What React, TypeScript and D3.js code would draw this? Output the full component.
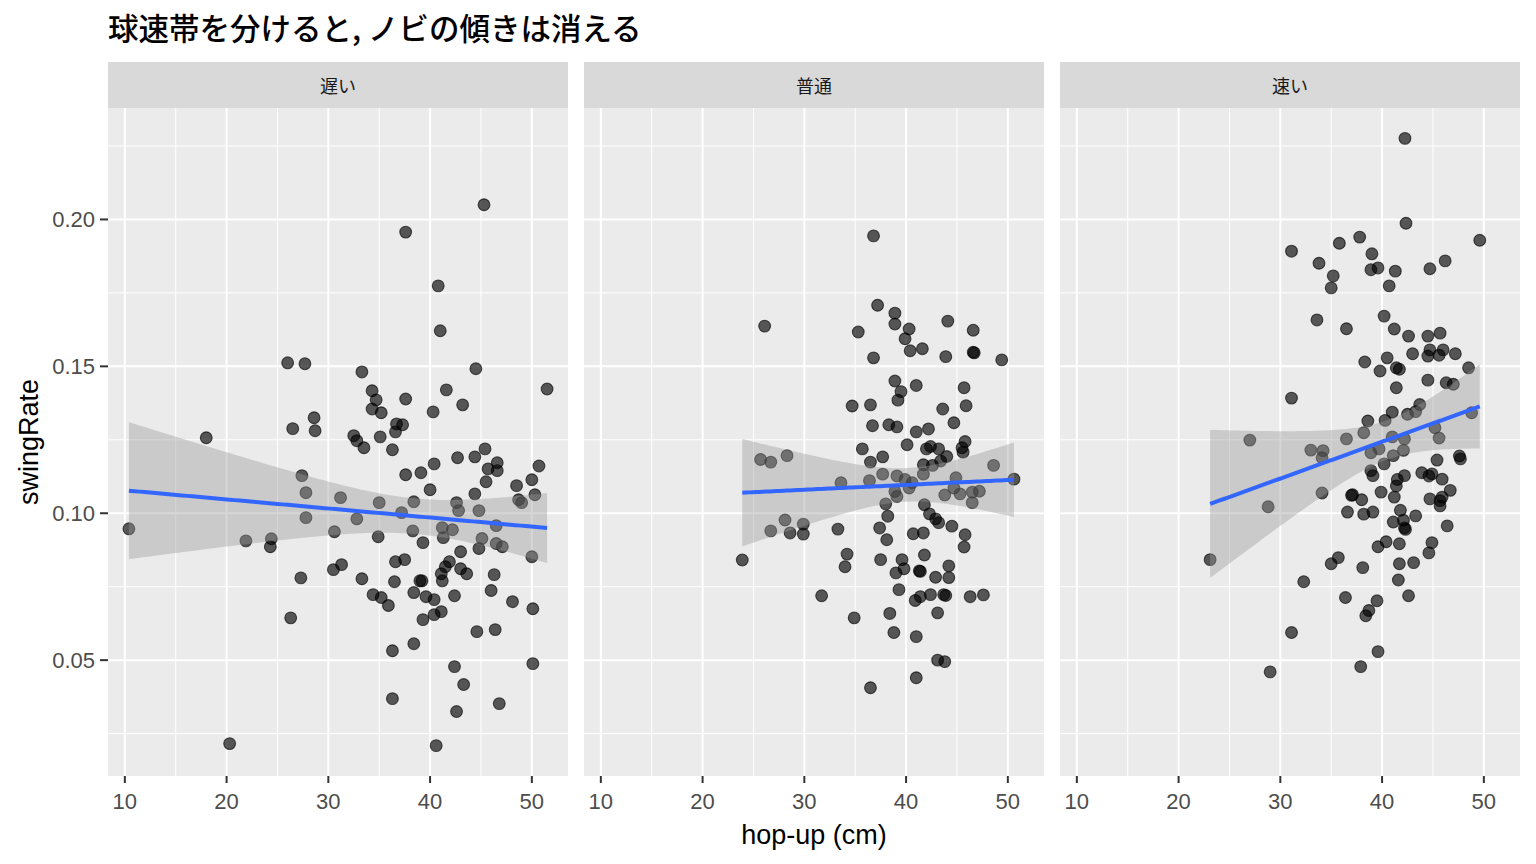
import React from "react";
import * as d3 from "d3";

// facet labels (pitch speed band) and axis ticks
const facetLabels = ["遅い", "普通", "速い"];
const xTicks = [10, 20, 30, 40, 50];
const xMinor = [15, 25, 35, 45];
const yTicks = [0.05, 0.1, 0.15, 0.2];
const yMinor = [0.025, 0.075, 0.125, 0.175, 0.225];

// [hop-up (cm), swingRate]
const slowPoints: [number, number][] = [
  [10.4, 0.0947], [18.0, 0.1257], [20.3, 0.0216], [21.9, 0.0906], [24.4, 0.0913],
  [24.3, 0.0886], [26.0, 0.1512], [27.7, 0.1509], [26.5, 0.1288], [26.3, 0.0644],
  [27.3, 0.078], [27.4, 0.1128], [27.8, 0.107], [27.8, 0.0985], [28.6, 0.1325],
  [28.7, 0.1281], [30.5, 0.0808], [31.2, 0.1053], [31.3, 0.0825], [30.6, 0.0937],
  [32.8, 0.0981], [32.5, 0.1264], [32.8, 0.1247], [33.3, 0.1481], [33.3, 0.0777],
  [33.5, 0.1223], [34.3, 0.1417], [34.7, 0.1386], [34.3, 0.1355], [35.2, 0.1342],
  [34.9, 0.092], [35.0, 0.1036], [34.4, 0.0723], [35.2, 0.0713], [35.1, 0.126],
  [35.9, 0.0686], [36.7, 0.1304], [37.3, 0.1301], [36.6, 0.1277], [36.3, 0.1216],
  [36.3, 0.0532], [36.3, 0.0369], [36.5, 0.0767], [36.6, 0.0835], [37.5, 0.0842],
  [37.6, 0.1957], [37.6, 0.1389], [37.2, 0.1002], [37.6, 0.1131], [38.4, 0.1039],
  [38.3, 0.094], [39.0, 0.077], [39.2, 0.077], [39.3, 0.09], [39.3, 0.0638],
  [39.6, 0.0716], [40.4, 0.0706], [40.4, 0.0655], [41.1, 0.0665], [39.1, 0.1138],
  [40.4, 0.1168], [40.0, 0.108], [40.3, 0.1345], [40.6, 0.0209], [40.8, 0.1774],
  [41.0, 0.1621], [41.2, 0.0951], [42.2, 0.0944], [41.3, 0.0917], [42.6, 0.1036],
  [42.8, 0.1009], [43.0, 0.0869], [41.1, 0.0794], [41.2, 0.077], [41.5, 0.0818],
  [41.9, 0.0835], [43.0, 0.0811], [43.6, 0.0794], [42.4, 0.0719], [42.4, 0.0478],
  [43.3, 0.0417], [42.6, 0.0325], [41.6, 0.142], [43.2, 0.1369], [42.7, 0.1189],
  [44.4, 0.1192], [44.5, 0.1492], [44.4, 0.1066], [44.8, 0.1009], [45.1, 0.0914],
  [44.8, 0.088], [44.6, 0.0597], [45.3, 0.205], [45.4, 0.1219], [45.5, 0.1107],
  [45.7, 0.1151], [46.6, 0.1145], [46.6, 0.1172], [46.5, 0.0958], [46.5, 0.0897],
  [47.1, 0.0886], [46.3, 0.0791], [46.0, 0.0737], [46.4, 0.0604], [46.8, 0.0352],
  [48.1, 0.0699], [48.5, 0.1094], [48.7, 0.1046], [49.0, 0.1036], [50.0, 0.1114],
  [50.3, 0.1063], [50.7, 0.1161], [50.0, 0.0852], [50.1, 0.0675], [50.1, 0.0488],
  [51.5, 0.1423], [38.4, 0.0556], [38.4, 0.073],
];

const normalPoints: [number, number][] = [
  [36.8, 0.1944], [26.1, 0.1637], [37.2, 0.1708], [38.9, 0.1681], [38.9, 0.1644],
  [40.3, 0.1627], [39.9, 0.1594], [35.3, 0.1617], [44.1, 0.1654], [46.6, 0.1623],
  [40.4, 0.1553], [41.6, 0.156], [36.8, 0.1529], [43.9, 0.1533], [46.6, 0.1548],
  [46.7, 0.1546], [49.4, 0.1522], [38.9, 0.145], [41.0, 0.1435], [45.7, 0.1427],
  [39.5, 0.1414], [39.2, 0.1385], [34.7, 0.1365], [36.5, 0.1369], [45.9, 0.1366],
  [43.6, 0.1355], [44.7, 0.1308], [36.7, 0.1298], [38.3, 0.1301], [39.1, 0.1294],
  [41.0, 0.1277], [42.2, 0.1287], [35.7, 0.1219], [40.1, 0.1233], [42.0, 0.1219],
  [42.4, 0.1227], [43.2, 0.1219], [45.8, 0.1244], [45.5, 0.1223], [45.6, 0.1208],
  [44.0, 0.1193], [37.7, 0.1192], [36.5, 0.1174], [41.7, 0.1165], [42.6, 0.1163],
  [43.4, 0.1178], [48.6, 0.1163], [25.7, 0.1183], [26.7, 0.1174], [28.3, 0.1196],
  [37.7, 0.1133], [36.4, 0.1111], [33.6, 0.1104], [39.1, 0.1127], [39.9, 0.1115],
  [40.6, 0.1104], [40.3, 0.1086], [41.7, 0.1133], [44.9, 0.1121], [44.7, 0.1086],
  [45.3, 0.1066], [43.8, 0.1062], [46.5, 0.1072], [47.2, 0.1075], [46.5, 0.1036],
  [50.6, 0.1116], [38.9, 0.1074], [39.1, 0.1057], [38.0, 0.1032], [38.2, 0.099],
  [41.8, 0.1029], [42.3, 0.0998], [42.9, 0.0981], [43.2, 0.0968], [44.5, 0.0956],
  [45.8, 0.0927], [45.7, 0.0885], [37.4, 0.095], [40.7, 0.093], [41.7, 0.0933],
  [38.1, 0.091], [41.8, 0.0858], [39.6, 0.0842], [37.5, 0.0842], [39.8, 0.0811],
  [39.0, 0.0797], [41.3, 0.0804], [41.4, 0.0802], [44.2, 0.0821], [42.9, 0.0782],
  [44.2, 0.0781], [39.3, 0.074], [40.9, 0.0703], [41.4, 0.0716], [42.4, 0.0723],
  [43.7, 0.0723], [43.9, 0.072], [46.3, 0.0716], [47.6, 0.0722], [43.1, 0.0661],
  [38.4, 0.0659], [34.9, 0.0644], [38.8, 0.0594], [41.0, 0.058], [43.1, 0.05],
  [43.8, 0.0495], [41.0, 0.044], [36.5, 0.0406], [31.7, 0.0719], [34.2, 0.0861],
  [34.0, 0.0818], [33.3, 0.0946], [28.1, 0.0977], [26.7, 0.094], [28.6, 0.0933],
  [29.9, 0.0963], [29.9, 0.0929], [23.9, 0.0841],
];

const fastPoints: [number, number][] = [
  [42.25, 0.2276], [42.35, 0.1987], [49.6, 0.1929], [31.1, 0.1892], [35.8, 0.1919],
  [37.8, 0.194], [39.0, 0.1883], [33.8, 0.1851], [38.9, 0.1829], [39.6, 0.1835],
  [41.3, 0.1824], [44.7, 0.1832], [46.2, 0.1859], [35.2, 0.1808], [35.0, 0.1767],
  [40.7, 0.1774], [40.2, 0.1671], [33.6, 0.1658], [36.5, 0.1628], [41.2, 0.1627],
  [42.6, 0.1603], [44.5, 0.1603], [45.7, 0.1613], [43.0, 0.1543], [44.7, 0.1556],
  [44.5, 0.1535], [46.0, 0.1556], [45.6, 0.1538], [47.2, 0.1543], [40.5, 0.1529],
  [38.3, 0.1515], [39.8, 0.1484], [41.4, 0.1495], [41.7, 0.149], [48.5, 0.1495],
  [44.5, 0.1453], [46.3, 0.1444], [47.0, 0.1439], [41.4, 0.1427], [31.1, 0.1392],
  [43.7, 0.137], [43.3, 0.1346], [42.5, 0.1337], [41.0, 0.1344], [38.6, 0.1314],
  [40.3, 0.1316], [48.8, 0.1342], [27.0, 0.1249], [36.5, 0.1253], [38.2, 0.1274],
  [41.0, 0.126], [42.2, 0.1253], [42.1, 0.1214], [45.2, 0.1291], [45.6, 0.1256],
  [33.0, 0.1215], [34.2, 0.1213], [34.1, 0.1189], [38.9, 0.1206], [39.7, 0.1219],
  [41.1, 0.1196], [40.2, 0.1168], [45.4, 0.1181], [47.6, 0.1195], [47.7, 0.1185],
  [38.9, 0.1145], [39.1, 0.1128], [41.5, 0.1115], [42.2, 0.1128], [41.4, 0.1093],
  [43.9, 0.1138], [44.6, 0.1127], [44.9, 0.1134], [45.9, 0.1116], [46.7, 0.1078],
  [45.9, 0.1055], [45.7, 0.1043], [45.7, 0.1025], [44.7, 0.1049], [34.1, 0.1069],
  [39.9, 0.1072], [41.2, 0.1055], [37.0, 0.1061], [37.1, 0.1063], [38.0, 0.1046],
  [36.6, 0.1004], [38.2, 0.0997], [39.1, 0.1004], [41.8, 0.101], [43.3, 0.0991],
  [41.1, 0.097], [42.1, 0.0976], [42.2, 0.095], [42.3, 0.0945], [46.4, 0.0957],
  [28.8, 0.1022], [23.1, 0.0842], [40.4, 0.0903], [39.6, 0.0886], [41.7, 0.0896],
  [44.9, 0.09], [44.6, 0.0865], [35.7, 0.0849], [35.0, 0.0828], [38.1, 0.0815],
  [41.7, 0.0828], [43.1, 0.0832], [41.6, 0.0773], [42.6, 0.0719], [32.3, 0.0767],
  [36.4, 0.0713], [39.5, 0.0702], [38.7, 0.0669], [38.4, 0.0651], [31.1, 0.0594],
  [39.6, 0.0529], [37.9, 0.0478], [29.0, 0.046],
];

const facetData = [slowPoints, normalPoints, fastPoints];

// layout
const panelLefts = [108, 584, 1060];
const panelW = 460;
const stripTop = 62;
const panelTop = 108;
const panelBottom = 776;

const numFont = "'Liberation Sans', Arial, sans-serif";
const jpFont = "'Noto Sans CJK JP', sans-serif";

// t quantile (two sided 95%) approximation
const tQuant = (df: number) => {
  const z = 1.959964;
  return (
    z +
    (z ** 3 + z) / (4 * df) +
    (5 * z ** 5 + 16 * z ** 3 + 3 * z) / (96 * df * df)
  );
};

// linear fit with confidence band, like geom_smooth(method = "lm")
const smoothLm = (pts: [number, number][]) => {
  const n = pts.length;
  const mx = d3.mean(pts, (d) => d[0])!;
  const my = d3.mean(pts, (d) => d[1])!;
  const sxx = d3.sum(pts, (d) => (d[0] - mx) ** 2);
  const sxy = d3.sum(pts, (d) => (d[0] - mx) * (d[1] - my));
  const b = sxy / sxx;
  const a = my - b * mx;
  const rss = d3.sum(pts, (d) => (d[1] - a - b * d[0]) ** 2);
  const s = Math.sqrt(rss / (n - 2));
  const t = tQuant(n - 2);
  const [x0, x1] = d3.extent(pts, (d) => d[0]) as [number, number];
  return d3.range(80).map((i) => {
    const x = x0 + ((x1 - x0) * i) / 79;
    const fit = a + b * x;
    const se = s * Math.sqrt(1 / n + (x - mx) ** 2 / sxx);
    return { x, fit, lo: fit - t * se, hi: fit + t * se };
  });
};

const expand = (ext: [number, number]) => {
  const pad = (ext[1] - ext[0]) * 0.05;
  return [ext[0] - pad, ext[1] + pad];
};

export default function App() {
  const all = facetData.flat();
  const x = d3
    .scaleLinear()
    .domain(expand(d3.extent(all, (d) => d[0]) as [number, number]))
    .range([0, panelW]);
  const y = d3
    .scaleLinear()
    .domain(expand(d3.extent(all, (d) => d[1]) as [number, number]))
    .range([panelBottom, panelTop]);

  const band = d3
    .area<{ x: number; lo: number; hi: number }>()
    .x((d) => x(d.x))
    .y0((d) => y(d.lo))
    .y1((d) => y(d.hi));
  const line = d3
    .line<{ x: number; fit: number }>()
    .x((d) => x(d.x))
    .y((d) => y(d.fit));

  return (
    <svg width={1536} height={864} style={{ position: "absolute", left: 0, top: 0, background: "#fff" }}>
      <text x={108} y={40} fontFamily={jpFont} fontSize={30.5} fontWeight={500} fill="#000">
        球速帯を分けると, ノビの傾きは消える
      </text>

      {facetData.map((pts, fi) => {
        const left = panelLefts[fi];
        const sm = smoothLm(pts);
        return (
          <g key={fi}>
            <rect x={left} y={stripTop} width={panelW} height={panelTop - stripTop} fill="#D9D9D9" />
            <text
              x={left + panelW / 2}
              y={(stripTop + panelTop) / 2 + 8}
              textAnchor="middle"
              fontFamily={jpFont}
              fontSize={18}
              fill="#1A1A1A"
            >
              {facetLabels[fi]}
            </text>
            <rect x={left} y={panelTop} width={panelW} height={panelBottom - panelTop} fill="#EBEBEB" />
            <g transform={`translate(${left},0)`}>
              {xMinor.map((v) => (
                <line key={"xm" + v} x1={x(v)} x2={x(v)} y1={panelTop} y2={panelBottom} stroke="#fff" strokeWidth={1} />
              ))}
              {yMinor.map((v) => (
                <line key={"ym" + v} x1={0} x2={panelW} y1={y(v)} y2={y(v)} stroke="#fff" strokeWidth={1} />
              ))}
              {xTicks.map((v) => (
                <line key={"xM" + v} x1={x(v)} x2={x(v)} y1={panelTop} y2={panelBottom} stroke="#fff" strokeWidth={2} />
              ))}
              {yTicks.map((v) => (
                <line key={"yM" + v} x1={0} x2={panelW} y1={y(v)} y2={y(v)} stroke="#fff" strokeWidth={2} />
              ))}
              {pts.map((d, i) => (
                <circle
                  key={i}
                  cx={x(d[0])}
                  cy={y(d[1])}
                  r={5.9}
                  fill="rgba(0,0,0,0.64)"
                  stroke="rgba(0,0,0,0.64)"
                  strokeWidth={1.1}
                />
              ))}
              <path d={band(sm) || ""} fill="#999999" fillOpacity={0.4} />
              <path d={line(sm) || ""} fill="none" stroke="#3366FF" strokeWidth={4} />
              {xTicks.map((v) => (
                <g key={"xt" + v}>
                  <line x1={x(v)} x2={x(v)} y1={panelBottom} y2={panelBottom + 7} stroke="#333" strokeWidth={2} />
                  <text
                    x={x(v)}
                    y={panelBottom + 33}
                    textAnchor="middle"
                    fontFamily={numFont}
                    fontSize={22}
                    fill="#4D4D4D"
                  >
                    {v}
                  </text>
                </g>
              ))}
            </g>
          </g>
        );
      })}

      {yTicks.map((v) => (
        <g key={"yt" + v}>
          <line x1={100} x2={108} y1={y(v)} y2={y(v)} stroke="#333" strokeWidth={2} />
          <text
            x={95}
            y={y(v) + 8}
            textAnchor="end"
            fontFamily={numFont}
            fontSize={22}
            fill="#4D4D4D"
          >
            {v.toFixed(2)}
          </text>
        </g>
      ))}

      <text
        transform={`translate(38,${(panelTop + panelBottom) / 2}) rotate(-90)`}
        textAnchor="middle"
        fontFamily={numFont}
        fontSize={27}
        fill="#000"
      >
        swingRate
      </text>
      <text x={814} y={844} textAnchor="middle" fontFamily={numFont} fontSize={27} fill="#000">
        hop-up (cm)
      </text>
    </svg>
  );
}
